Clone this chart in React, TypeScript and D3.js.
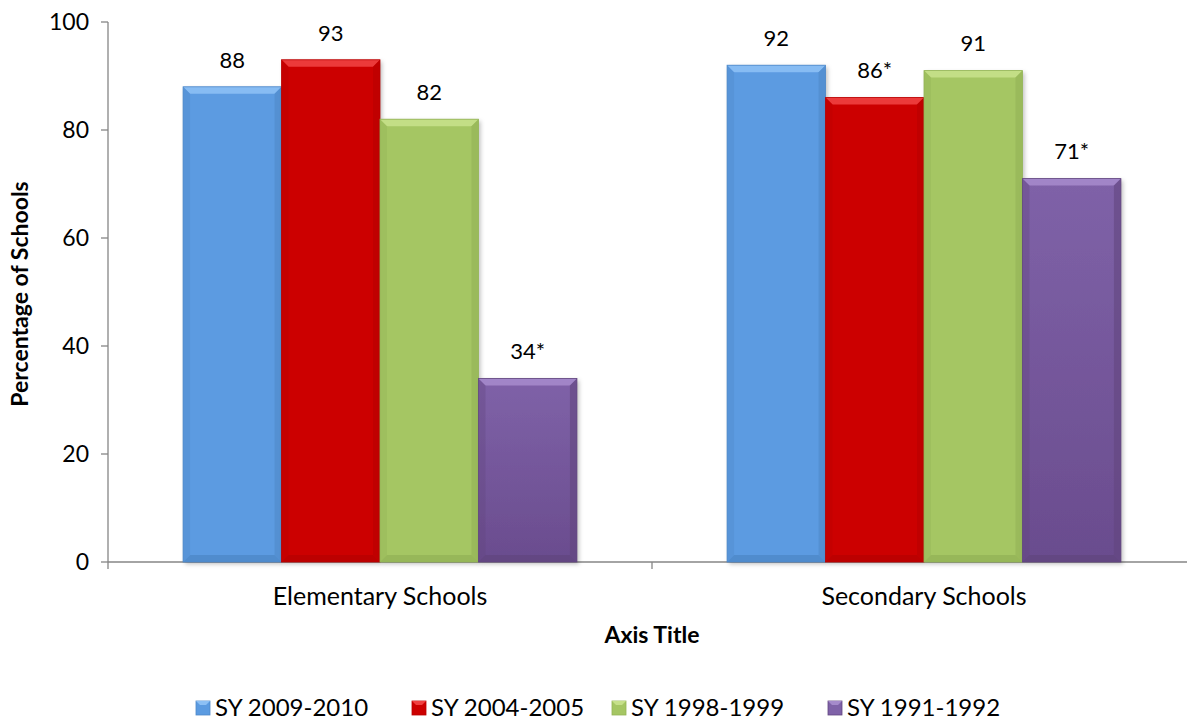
import React from "react";
import * as d3 from "d3";

const categories = ["Elementary Schools", "Secondary Schools"];
const seriesNames = ["SY 2009-2010", "SY 2004-2005", "SY 1998-1999", "SY 1991-1992"];
const seriesValues = [
  [88, 92],
  [93, 86],
  [82, 91],
  [34, 71],
];
const valueLabels = [
  ["88", "92"],
  ["93", "86*"],
  ["82", "91"],
  ["34*", "71*"],
];
const yTicks = [0, 20, 40, 60, 80, 100];
const colors = ["#5B9BE1", "#CC0000", "#A5C663", "#7F62A8"];
const colorsDark = ["#4E88C8", "#B80000", "#93B356", "#62467F"];
const colorsLight = ["#8CC0F5", "#F04040", "#C6E08A", "#A58ACB"];

const W = 1187;
const H = 721;
const left = 108;
const right = 1196;
const top = 22;
const bottom = 562;
const font = "Lato, 'Open Sans', sans-serif";

export default function App() {
  const x0 = d3.scaleBand<string>().domain(categories).range([left, right]).paddingInner(0.276).paddingOuter(0.138);
  const x1 = d3.scaleBand<string>().domain(seriesNames).range([0, x0.bandwidth()]);
  const y = d3.scaleLinear().domain([0, 100]).range([bottom, top]);
  const bev = 7;
  const legendX = [196, 412, 612, 828];

  return (
    <svg width={W} height={H} style={{ position: "absolute", left: 0, top: 0, background: "#fff" }}>
      <defs>
        {colors.map((c, i) => (
          <linearGradient key={i} id={`g${i}`} x1="0" y1="0" x2="0" y2="1">
            <stop offset="0" stopColor={c} />
            <stop offset="1" stopColor={i === 3 ? "#6A4C8E" : c} />
          </linearGradient>
        ))}
        <filter id="sh" x="-10%" y="-10%" width="130%" height="130%">
          <feDropShadow dx="2" dy="2" stdDeviation="2" floodColor="#000" floodOpacity="0.25" />
        </filter>
      </defs>
      {/* axes */}
      <line x1={left} x2={left} y1={top} y2={bottom} stroke="#868686" strokeWidth={1.3} />
      <line x1={left} x2={W} y1={bottom} y2={bottom} stroke="#868686" strokeWidth={1.3} />
      {yTicks.map((t) => (
        <g key={t}>
          <line x1={left - 7} x2={left} y1={y(t)} y2={y(t)} stroke="#868686" strokeWidth={1.3} />
          <text x={left - 19} y={y(t)} dy="0.35em" textAnchor="end" fontFamily={font} fontSize={23} fill="#000">
            {t}
          </text>
        </g>
      ))}
      {[left, left + x0.step(), right].map((xx, i) => (
        <line key={i} x1={xx} x2={xx} y1={bottom} y2={bottom + 7} stroke="#868686" strokeWidth={1.3} />
      ))}
      {/* bars */}
      {categories.map((cat, ci) => (
        <g key={cat}>
          {seriesNames.map((s, si) => {
            const v = seriesValues[si][ci];
            const bx = (x0(cat) as number) + (x1(s) as number);
            const bw = x1.bandwidth();
            const by = y(v);
            const bh = bottom - by;
            return (
              <g key={s}>
                <rect x={bx} y={by} width={bw} height={bh} fill={`url(#g${si})`} filter="url(#sh)" />
                <polygon
                  points={`${bx},${by} ${bx + bw},${by} ${bx + bw - bev},${by + bev} ${bx + bev},${by + bev}`}
                  fill={colorsLight[si]}
                  opacity={0.9}
                />
                <polygon
                  points={`${bx},${by} ${bx + bev},${by + bev} ${bx + bev},${bottom - bev} ${bx},${bottom}`}
                  fill={colorsDark[si]}
                  opacity={0.35}
                />
                <polygon
                  points={`${bx + bw},${by} ${bx + bw - bev},${by + bev} ${bx + bw - bev},${bottom - bev} ${bx + bw},${bottom}`}
                  fill={colorsDark[si]}
                  opacity={0.6}
                />
                <polygon
                  points={`${bx},${bottom} ${bx + bev},${bottom - bev} ${bx + bw - bev},${bottom - bev} ${bx + bw},${bottom}`}
                  fill={colorsDark[si]}
                  opacity={0.8}
                />
                <rect x={bx} y={by} width={bw} height={bh} fill="none" stroke={colorsDark[si]} strokeWidth={0.8} />
                <text x={bx + bw / 2} y={by - 27} dy="0.35em" textAnchor="middle" fontFamily={font} fontSize={22} fill="#000">
                  {valueLabels[si][ci]}
                </text>
              </g>
            );
          })}
          <text x={(x0(cat) as number) + x0.bandwidth() / 2} y={596} dy="0.35em" textAnchor="middle" fontFamily={font} fontSize={25} fill="#000">
            {cat}
          </text>
        </g>
      ))}
      {/* axis titles */}
      <text x={652} y={635} dy="0.35em" textAnchor="middle" fontFamily={font} fontSize={23} fontWeight="bold" fill="#000">
        Axis Title
      </text>
      <text
        transform={`translate(20,${294}) rotate(-90)`}
        dy="0.35em"
        textAnchor="middle"
        fontFamily={font}
        fontSize={23}
        fontWeight="bold"
        fill="#000"
      >
        Percentage of Schools
      </text>
      {/* legend */}
      {seriesNames.map((s, i) => (
        <g key={s}>
          <rect x={legendX[i]} y={701} width={14} height={14} fill={colors[i]} stroke={colorsDark[i]} strokeWidth={0.8} />
          <polygon
            points={`${legendX[i]},${701} ${legendX[i] + 14},${701} ${legendX[i] + 10},${705} ${legendX[i] + 4},${705}`}
            fill={colorsLight[i]}
          />
          <text x={legendX[i] + 19} y={708} dy="0.35em" fontFamily={font} fontSize={24} fill="#000">
            {s}
          </text>
        </g>
      ))}
    </svg>
  );
}
